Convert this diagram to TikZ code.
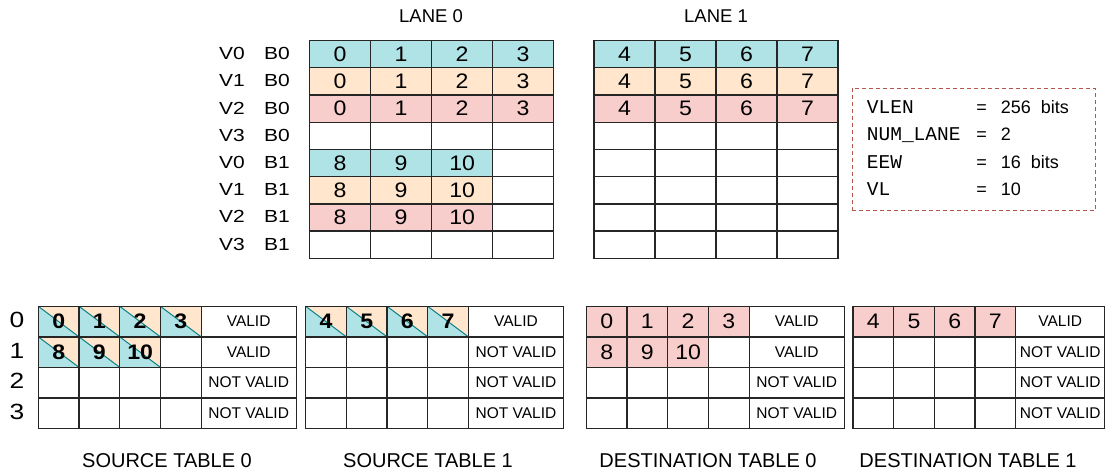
\documentclass[tikz,border=0pt]{standalone}
\usepackage{fontspec}
\setmainfont{Liberation Sans}
\setmonofont{Liberation Mono}
\newfontfamily\widesf[FakeStretch=1.1]{Liberation Sans}
\newfontfamily\vwidesf[FakeStretch=1.2]{Liberation Sans}
\usepackage{xcolor}
\usetikzlibrary{positioning}

\definecolor{vteal}{HTML}{B0E3E6}
\definecolor{vpeach}{HTML}{FFE6CC}
\definecolor{vpink}{HTML}{F8CECC}
\definecolor{diagteal}{HTML}{0E8088}
\definecolor{boxred}{HTML}{B85450}

\begin{document}
\begin{tikzpicture}[x=1pt, y=-1pt,
      cell/.style={draw=black!85, line width=1.3pt, anchor=north west, inner sep=0pt,
                   minimum width=61pt, minimum height=27.2pt,
                   font=\widesf\fontsize{21}{23}\selectfont},
      bcell/.style={cell, minimum width=40.7pt, minimum height=30.5pt},
      srccell/.style={bcell, font=\widesf\bfseries\fontsize{21}{23}\selectfont,
                      path picture={
                        \fill[vpeach] (path picture bounding box.north west) -| (path picture bounding box.south east) -- cycle;
                        \fill[vteal] (path picture bounding box.north west) |- (path picture bounding box.south east) -- cycle;
                        \draw[diagteal, line width=1pt] (path picture bounding box.north west) -- (path picture bounding box.south east);}},
      dstcell/.style={bcell, fill=vpink, font=\widesf\fontsize{21}{23}\selectfont},
      vlab/.style={font=\vwidesf\fontsize{17.5}{19}\selectfont, inner sep=0pt},
      rowlab/.style={font=\vwidesf\fontsize{22}{24}\selectfont, inner sep=0pt},
      lanelab/.style={font=\fontsize{18.5}{20}\selectfont},
      tabtitle/.style={font=\fontsize{20}{22}\selectfont},
      param/.style={font=\ttfamily\fontsize{19.5}{21}\selectfont, anchor=base west, inner sep=0pt},
      peq/.style={font=\fontsize{18}{20}\selectfont, anchor=base, inner sep=0pt},
      pval/.style={font=\fontsize{18}{20}\selectfont, anchor=base west, inner sep=0pt}]
    \useasboundingbox (0,0) rectangle (1107,473);

    \node[lanelab] (lane0) at (431,16) {LANE 0};
    \node[lanelab] (lane1) at (716,16) {LANE 1};
    \foreach \lane/\xo/\base in {a/309/0, b/593.3/4}{
      \foreach \r in {0,...,7}{
        \pgfmathtruncatemacro\m{mod(\r,4)}
        \foreach \c in {0,...,3}{
          \pgfmathtruncatemacro\used{(\r<3) || (\r>3 && \m<3 && \c<3 && \base==0)}
          \pgfmathtruncatemacro\val{\r<3 ? \base+\c : 8+\c}
          \ifcase\m \def\fc{vteal}\or\def\fc{vpeach}\or\def\fc{vpink}\else\def\fc{white}\fi
          \ifnum\used=1
            \node[cell, fill=\fc] (\lane\r\c) at ({\xo+61*\c},{40+27.2*\r}) {\val};
          \else
            \node[cell] (\lane\r\c) at ({\xo+61*\c},{40+27.2*\r}) {};
          \fi
        }
      }
    }
    \foreach \r in {0,...,7}{
      \pgfmathtruncatemacro\m{mod(\r,4)}
      \pgfmathtruncatemacro\bk{int(\r/4)}
      \node[vlab] (vl\r) at (232,{53.6+27.2*\r}) {V\m};
      \node[vlab] (bl\r) at (277,{53.6+27.2*\r}) {B\bk};
    }

    \node[draw=boxred, dash pattern=on 4pt off 3pt, line width=1pt, anchor=north west,
          inner sep=0pt, minimum width=243.3pt, minimum height=122.3pt] (params) at (851.7,87.7) {};
    \foreach \i/\pn/\pv in {0/VLEN/256\ \ bits, 1/NUM\_LANE/2, 2/EEW/16\ \ bits, 3/VL/10}{
      \node[param] (pn\i) at (866.7,{114+27*\i}) {\pn};
      \node[peq]   (pe\i) at (981.7,{114+27*\i}) {=};
      \node[pval]  (pv\i) at (1000.7,{114+27*\i}) {\pv};
    }

    \foreach \r in {0,...,3}
      \node[rowlab] (row\r) at (17,{320+30.5*\r}) {\r};
    \foreach \tb/\xo/\lw/\nv/\base/\fsty in {s0/37.7/95/2/0/srccell, s1/305/95/1/4/srccell,
                                            d0/585.7/95/2/0/dstcell, d1/852.3/89/1/4/dstcell}{
      \foreach \r in {0,...,3}{
        \foreach \c in {0,...,3}{
          \pgfmathtruncatemacro\used{(\r==0) || (\r==1 && \c<3 && \nv==2)}
          \pgfmathtruncatemacro\val{\base+\c+8*\r}
          \ifnum\used=1
            \node[\fsty] (\tb\r\c) at ({\xo+40.7*\c},{305.7+30.5*\r}) {\val};
          \else
            \node[bcell] (\tb\r\c) at ({\xo+40.7*\c},{305.7+30.5*\r}) {};
          \fi
        }
        \node[bcell, minimum width=\lw pt, font=\fontsize{15.5}{17}\selectfont] (\tb\r v)
          at ({\xo+162.8},{305.7+30.5*\r}) {\ifnum\r<\nv\relax VALID\else NOT VALID\fi};
      }
    }
    \node[tabtitle] (ts0) at (167,461) {SOURCE TABLE 0};
    \node[tabtitle] (ts1) at (428,461) {SOURCE TABLE 1};
    \node[tabtitle] (td0) at (708,461) {DESTINATION TABLE 0};
    \node[tabtitle] (td1) at (968,461) {DESTINATION TABLE 1};
  \end{tikzpicture}
\end{document}
